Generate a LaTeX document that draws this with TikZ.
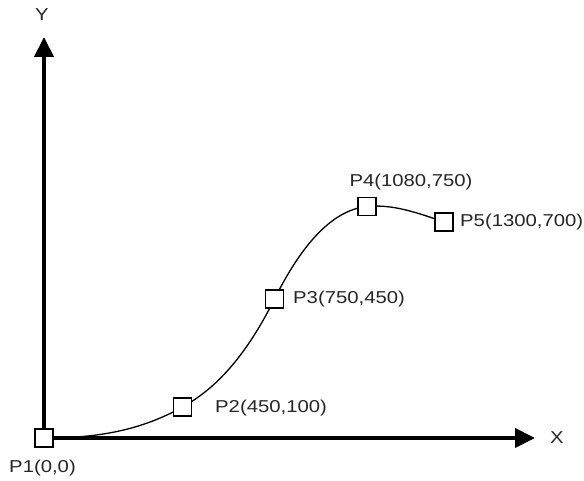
\documentclass[tikz,border=0pt]{standalone}
\usepackage{fontspec}
\setmainfont[FakeStretch=1.18]{Liberation Sans}
\usetikzlibrary{arrows.meta}
\begin{document}
\begin{tikzpicture}[x=1pt,y=-1pt,
  pt/.style={draw=black,fill=white,line width=1.3pt,minimum size=18pt,inner sep=0pt},
  lbl/.style={inner sep=0pt,text=black!85,font=\fontsize{17.2pt}{19pt}\selectfont},
  axis/.style={line width=4pt,-{Triangle[length=20pt,width=19pt]}},
  curve/.style={line width=1.3pt}]
\useasboundingbox (0,0) rectangle (584,481);
\coordinate (O) at (44,438);
\coordinate (Ytip) at (44,37);
\coordinate (Xtip) at (535,438);
\coordinate (c1) at (44,438);
\coordinate (c2) at (182.5,407);
\coordinate (c3) at (274.5,299);
\coordinate (c4) at (367,206.5);
\coordinate (c5) at (444,222);
\draw[axis] (O) -- (Ytip);
\draw[axis] (O) -- (Xtip);
\node[lbl] (ylab) at (42,15) {Y};
\node[lbl] (xlab) at (557,438) {X};
\draw[curve]
  (c1) .. controls (90.2,438) and (136.3,433) .. (c2)
  .. controls (213.2,390.0) and (243.8,360.3) .. (c3)
  .. controls (305.3,237.3) and (336.2,209.6) .. (c4)
  .. controls (392.7,203.9) and (418.3,213.0) .. (c5);
\node[pt] (P1) at (c1) {};
\node[pt] (P2) at (c2) {};
\node[pt] (P3) at (c3) {};
\node[pt] (P4) at (c4) {};
\node[pt] (P5) at (c5) {};
\node[lbl] (l1) at (42.5,468) {P1(0,0)};
\node[lbl,anchor=west] (l2) at (215,408) {P2(450,100)};
\node[lbl,anchor=west] (l3) at (293,299) {P3(750,450)};
\node[lbl] (l4) at (411,182) {P4(1080,750)};
\node[lbl,anchor=west] (l5) at (460,222) {P5(1300,700)};
\end{tikzpicture}
\end{document}
